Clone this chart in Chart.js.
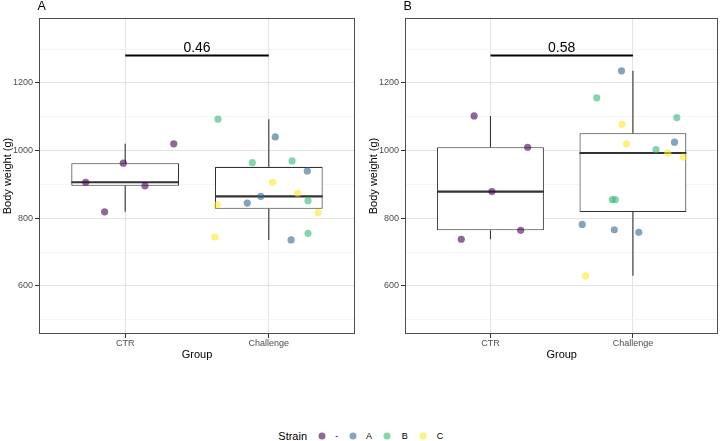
<!DOCTYPE html>
<html><head><meta charset="utf-8">
<script src="https://cdn.jsdelivr.net/npm/chart.js@4.4.1/dist/chart.umd.min.js"></script>
<style>
html,body{margin:0;padding:0;background:#fff;}
body{width:722px;height:441px;position:relative;overflow:hidden;font-family:'Liberation Sans',Arial,sans-serif;}
.panel{position:absolute;top:0;width:361px;height:370px;}
#wa{left:0}#wb{left:361px}
.lg{position:absolute;top:436px;transform:translate(-50%,-50%);white-space:nowrap;line-height:1;color:#000;}
.dot{width:7px;height:7px;border-radius:50%;}
</style></head><body>
<div class="panel" id="wa"><canvas id="ca" width="361" height="370"></canvas></div>
<div class="panel" id="wb"><canvas id="cb" width="361" height="370"></canvas></div>
<div id="legend"></div>
<script>
// ---------- data ----------
const groups = ['CTR', 'Challenge'];
const strains = ['-', 'A', 'B', 'C'];
const strainColors = ['rgba(68,1,84,0.6)', 'rgba(49,104,142,0.6)', 'rgba(53,183,121,0.6)', 'rgba(253,231,37,0.6)'];
const yTickLabels = [600, 800, 1000, 1200];
const yMinorGrid = [500, 700, 900, 1100, 1300];
const pValues = ['0.46', '0.58'];
const panelLabels = ['A', 'B'];
const sigBarWeight = 1281;

// Panel A
const a_ctr_weight = [906.5, 963, 1020, 896, 819];
const a_ctr_jitter = [-0.275, -0.013, 0.338, 0.138, -0.143];
const a_ctr_strain = ['-', '-', '-', '-', '-'];
const a_chl_weight = [1093, 1040.5, 964.5, 969.5, 940, 906.5, 874, 865, 845, 840, 852, 816.5, 745, 755.5, 736];
const a_chl_jitter = [-0.354, 0.045, -0.115, 0.162, 0.268, 0.027, 0.201, -0.056, -0.150, -0.359, 0.273, 0.343, -0.375, 0.273, 0.155];
const a_chl_strain = ['B', 'A', 'B', 'B', 'A', 'C', 'C', 'A', 'A', 'C', 'B', 'C', 'C', 'B', 'A'];

// Panel B
const b_ctr_weight = [1102.7, 1010, 879, 764.5, 738];
const b_ctr_jitter = [-0.115, 0.261, 0.010, 0.212, -0.205];
const b_ctr_strain = ['-', '-', '-', '-', '-'];
const b_chl_weight = [1236, 1156, 1097.6, 1078, 1020, 1025, 1003, 993, 981, 855, 855, 782, 766, 758.6, 630];
const b_chl_jitter = [-0.080, -0.254, 0.308, -0.077, -0.045, 0.292, 0.162, 0.245, 0.354, -0.145, -0.124, -0.356, -0.131, 0.041, -0.333];
const b_chl_strain = ['A', 'B', 'B', 'C', 'C', 'A', 'B', 'C', 'C', 'B', 'B', 'A', 'A', 'A', 'C'];

// ---------- helpers ----------
Chart.defaults.font.family = "'Liberation Sans', Arial, sans-serif";
const FONT = "'Liberation Sans', Arial, sans-serif";

function quantile(s, p) {
  const h = (s.length - 1) * p, lo = Math.floor(h), hi = Math.min(lo + 1, s.length - 1);
  return s[lo] + (h - lo) * (s[hi] - s[lo]);
}
function boxStats(vals) {
  const s = [...vals].sort((a, b) => a - b);
  const q1 = quantile(s, 0.25), med = quantile(s, 0.5), q3 = quantile(s, 0.75), iqr = q3 - q1;
  const lo = s.find(v => v >= q1 - 1.5 * iqr);
  const hi = [...s].reverse().find(v => v <= q3 + 1.5 * iqr);
  return {q1, med, q3, lo, hi};
}

const MAJOR = '#e3e3e3', MINOR = '#f1f1f1', TICK = '#333333', TXT = '#4d4d4d';

function makePanel(canvasId, idx, groupData, padLeft, padRight) {
  const stats = groupData.map(g => boxStats(g.weight));
  const half = 0.375;
  const datasets = [];
  strains.forEach((s, si) => {
    const pts = [];
    groupData.forEach((g, gi) => g.weight.forEach((w, i) => {
      if (g.strain[i] === s) pts.push({x: gi + 1 + g.jitter[i], y: w});
    }));
    datasets.push({type: 'scatter', label: s, order: 0, data: pts, backgroundColor: strainColors[si],
      borderWidth: 0, pointRadius: 3.6, pointHoverRadius: 3.6});
  });
  stats.forEach((st, gi) => {
    const c = gi + 1;
    datasets.push({type: 'line', order: 1, showLine: true, data: [{x: c - half, y: st.med}, {x: c + half, y: st.med}],
      borderColor: '#333333', borderWidth: 2.2, pointRadius: 0, borderCapStyle: 'butt'});
    datasets.push({type: 'line', order: 2, showLine: true, data: [{x: c, y: st.q3}, {x: c, y: st.hi}],
      borderColor: '#333333', borderWidth: 1.1, pointRadius: 0});
    datasets.push({type: 'line', order: 2, showLine: true, data: [{x: c, y: st.q1}, {x: c, y: st.lo}],
      borderColor: '#333333', borderWidth: 1.1, pointRadius: 0});
  });
  datasets.push({type: 'bar', order: 3, data: stats.map((st, gi) => ({x: gi + 1, y: [st.q1, st.q3]})),
    backgroundColor: '#ffffff', borderColor: '#333333', borderWidth: 1.1, borderSkipped: false,
    barPercentage: 0.9375, categoryPercentage: 0.8});
  datasets.push({type: 'line', order: 1, showLine: true, data: [{x: 1, y: sigBarWeight}, {x: 2, y: sigBarWeight}],
    borderColor: '#000000', borderWidth: 2, pointRadius: 0, borderCapStyle: 'butt'});

  const decor = {
    id: 'decor',
    afterDatasetsDraw(chart) {
      const {ctx, chartArea: a, scales: {x, y}} = chart;
      ctx.save();
      // p value
      ctx.fillStyle = '#000';
      ctx.font = '14px ' + FONT;
      ctx.textAlign = 'center';
      ctx.textBaseline = 'alphabetic';
      ctx.fillText(pValues[idx], (x.getPixelForValue(1) + x.getPixelForValue(2)) / 2, y.getPixelForValue(sigBarWeight) - 3.5);
      // border
      ctx.strokeStyle = '#4d4d4d';
      ctx.lineWidth = 1;
      ctx.strokeRect(Math.round(a.left) + 0.5, Math.round(a.top) + 0.5, Math.round(a.right - a.left) - 1, Math.round(a.bottom - a.top) - 1);
      // panel label
      ctx.textAlign = 'left';
      ctx.font = '12.5px ' + FONT;
      ctx.fillText(panelLabels[idx], a.left - 1.5, 10);
      ctx.restore();
    }
  };

  return new Chart(document.getElementById(canvasId), {
    type: 'scatter',
    data: {datasets},
    options: {
      responsive: false, animation: false, events: [],
      layout: {padding: {left: padLeft, right: padRight, top: 18, bottom: 0}},
      plugins: {legend: {display: false}, tooltip: {enabled: false}, title: {display: false}},
      scales: {
        x: {
          type: 'linear', min: 0.4, max: 2.6, offset: false,
          afterFit: s => { s.height = 36; },
          afterBuildTicks: s => { s.ticks = groups.map((g, i) => ({value: i + 1})); },
          ticks: {callback: v => groups[v - 1], color: TXT, font: {size: 9}, padding: 0, autoSkip: false, maxRotation: 0},
          grid: {color: MAJOR, lineWidth: 1, drawTicks: true, tickLength: 4, tickColor: TICK, offset: false},
          border: {display: false},
          title: {display: true, text: 'Group', color: '#000', font: {size: 11}, padding: {top: 0, bottom: 8}}
        },
        y: {
          type: 'linear', min: 458, max: 1392,
          afterFit: s => { s.width = 39; },
          afterBuildTicks: s => {
            s.ticks = [...yTickLabels, ...yMinorGrid].sort((a, b) => a - b).map(v => ({value: v}));
          },
          ticks: {callback: v => yTickLabels.includes(v) ? String(v) : '', color: TXT, font: {size: 9}, padding: 2, autoSkip: false},
          grid: {
            color: c => (c.tick && yTickLabels.includes(c.tick.value)) ? MAJOR : MINOR,
            lineWidth: c => (c.tick && yTickLabels.includes(c.tick.value)) ? 1 : 0.7,
            tickColor: c => (c.tick && yTickLabels.includes(c.tick.value)) ? TICK : 'rgba(0,0,0,0)',
            drawTicks: true, tickLength: 4
          },
          border: {display: false},
          title: {display: true, text: 'Body weight (g)', color: '#000', font: {size: 11}, padding: {top: 1.5, bottom: 0}}
        }
      }
    },
    plugins: [decor]
  });
}

makePanel('ca', 0, [
  {weight: a_ctr_weight, jitter: a_ctr_jitter, strain: a_ctr_strain},
  {weight: a_chl_weight, jitter: a_chl_jitter, strain: a_chl_strain}
], 0, 6);
makePanel('cb', 1, [
  {weight: b_ctr_weight, jitter: b_ctr_jitter, strain: b_ctr_strain},
  {weight: b_chl_weight, jitter: b_chl_jitter, strain: b_chl_strain}
], 5, 1);

// ---------- legend ----------
(function () {
  const lg = document.getElementById('legend');
  const t = document.createElement('div');
  t.className = 'lg'; t.textContent = 'Strain';
  t.style.fontSize = '11px'; t.style.left = '292.7px';
  lg.appendChild(t);
  const dotX = [321.7, 353.3, 387.3, 422.7];
  const txtX = [336.7, 369, 404.7, 440];
  strains.forEach((s, i) => {
    const d = document.createElement('div');
    d.className = 'lg dot'; d.style.left = dotX[i] + 'px'; d.style.background = strainColors[i];
    lg.appendChild(d);
    const l = document.createElement('div');
    l.className = 'lg'; l.textContent = s; l.style.fontSize = '9px'; l.style.left = txtX[i] + 'px';
    lg.appendChild(l);
  });
})();
</script>
</body></html>
